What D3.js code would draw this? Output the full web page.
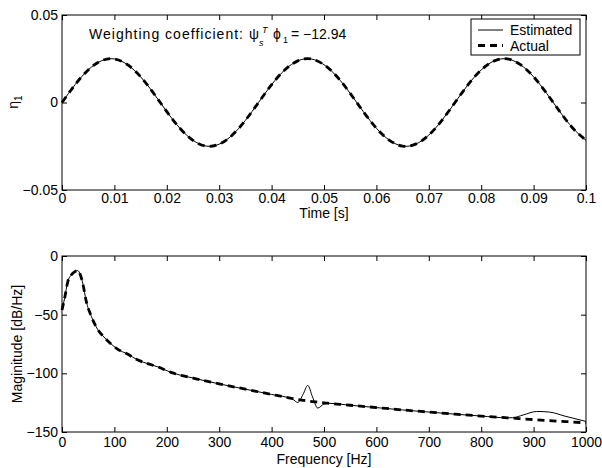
<!DOCTYPE html>
<html><head><meta charset="utf-8">
<script src="https://cdn.jsdelivr.net/npm/d3@7"></script>
<style>
body{margin:0;background:#fff}
svg{display:block}
text{font-family:"Liberation Sans",Arial,Helvetica,sans-serif;fill:#000}
</style>
</head><body>
<svg id="c" width="602" height="468"></svg>
<script>
// ---------- data ----------
const timeS = [0,0.0025,0.005,0.0075,0.01,0.0125,0.015,0.0175,0.02,0.0225,0.025,0.0275,0.03,0.0325,0.035,0.0375,
  0.04,0.0425,0.045,0.0475,0.05,0.0525,0.055,0.0575,0.06,0.0625,0.065,0.0675,0.07,0.0725,0.075,0.0775,
  0.08,0.0825,0.085,0.0875,0.09,0.0925,0.095,0.0975,0.1];
const etaEstimated = [0,0.0102,0.0186,0.0238,0.0249,0.0216,0.0147,0.0052,-0.0052,-0.0147,-0.0216,-0.0249,-0.0238,-0.0186,-0.0102,
  0,0.0102,0.0186,0.0238,0.0249,0.0216,0.0147,0.0052,-0.0052,-0.0147,-0.0216,-0.0249,-0.0238,-0.0186,-0.0102,
  0,0.0102,0.0186,0.0238,0.0249,0.0216,0.0147,0.0052,-0.0052,-0.0147,-0.0216];
const etaActual = [0,0.0102,0.0186,0.0238,0.0249,0.0216,0.0147,0.0052,-0.0052,-0.0147,-0.0216,-0.0249,-0.0238,-0.0186,-0.0102,
  0,0.0102,0.0186,0.0238,0.0249,0.0216,0.0147,0.0052,-0.0052,-0.0147,-0.0216,-0.0249,-0.0238,-0.0186,-0.0102,
  0,0.0102,0.0186,0.0238,0.0249,0.0216,0.0147,0.0052,-0.0052,-0.0147,-0.0216];
const timeTicks = [0,0.01,0.02,0.03,0.04,0.05,0.06,0.07,0.08,0.09,0.1];
const etaTicks = [-0.05,0,0.05];

const freqHz = [0,5,11,18,24,30,35,40,46,56,68,80,90,106,125,145,165,183,208,250,
  300,350,400,440,450,460,469,478,488,500,510,550,600,650,700,750,800,850,860,880,906,930,960,1000];
const magActual = [-46,-36,-22,-16,-13.5,-12.4,-16,-24,-38,-51.5,-62.5,-69,-73.5,-79.3,-83.6,-88.7,-92,-94.5,-99.2,-104,
  -109,-113.5,-118,-121.5,-122.3,-123,-123.6,-124.1,-124.6,-125.2,-125.6,-127.2,-129.2,-131.2,-133,-134.8,-136.4,-137.9,-138.2,-138.8,
  -139.6,-140.3,-141.1,-142.2];
const magEstimated = [-46,-36,-22,-16,-13.5,-12.4,-16,-24,-38,-51.5,-62.5,-69,-73.5,-79.3,-83.6,-88.7,-92,-94.5,-99.2,-104,
  -109,-113.5,-118,-122,-124.8,-118,-110.3,-120,-129.6,-126.2,-125.6,-127.2,-129.2,-131.2,-133,-134.8,-136.4,-137.9,-137.8,-135.5,
  -132.5,-133,-136.5,-141];
const freqTicks = [0,100,200,300,400,500,600,700,800,900,1000];
const magTicks = [-150,-100,-50,0];

const seriesNames = ["Estimated","Actual"];

// ---------- drawing ----------
const svg = d3.select("#c");
svg.append("rect").attr("width",602).attr("height",468).attr("fill","#fff");

const L = 62, R = 586;
const FS = 14;

function panel(top, bottom, xDom, yDom, xT, yT, xFmt, yFmt, xs, estY, actY, curve, xPad){
  const x = d3.scaleLinear().domain(xDom).range([L,R]);
  const y = d3.scaleLinear().domain(yDom).range([bottom,top]);
  const g = svg.append("g");

  const mk = (ax, tr, fmt, pad) => {
    const a = g.append("g").attr("transform",tr)
      .call(ax.tickSizeInner(-5).tickSizeOuter(0).tickPadding(pad).tickFormat(fmt));
    a.select(".domain").remove();
    a.selectAll("line").attr("stroke","#000").attr("stroke-width",1);
    a.selectAll("text").attr("font-size",FS).attr("font-family",'"Liberation Sans",Arial,sans-serif').attr("fill","#000");
    return a;
  };
  mk(d3.axisBottom(x).tickValues(xT), `translate(0,${bottom})`, xFmt, xPad);
  mk(d3.axisTop(x).tickValues(xT), `translate(0,${top})`, ()=>"", 0);
  mk(d3.axisLeft(y).tickValues(yT), `translate(${L},0)`, yFmt, 4);
  mk(d3.axisRight(y).tickValues(yT), `translate(${R},0)`, ()=>"", 0);

  const line = (ys) => d3.line().x((d,i)=>x(xs[i])).y(d=>y(d)).curve(curve)(ys);
  g.append("path").attr("d",line(estY)).attr("fill","none").attr("stroke","#000").attr("stroke-width",1);
  g.append("path").attr("d",line(actY)).attr("fill","none").attr("stroke","#000")
    .attr("stroke-width",2.8).attr("stroke-dasharray","7,5");

  g.append("rect").attr("x",L).attr("y",top).attr("width",R-L).attr("height",bottom-top)
    .attr("fill","none").attr("stroke","#000").attr("stroke-width",1);
  return {x,y,g};
}

const fmtT = d => d===0 ? "0" : d3.format(".2~f")(d);
const fmtE = d => d===0 ? "0" : d3.format(".2f")(d).replace("-","\u2212");
const fmtM = d => String(d).replace("-","\u2212");

panel(15,190,[0,0.1],[-0.05,0.05],timeTicks,etaTicks,fmtT,fmtE,timeS,etaEstimated,etaActual,d3.curveNatural,3);
panel(256,432,[0,1000],[-150,0],freqTicks,magTicks,d3.format("d"),fmtM,freqHz,magEstimated,magActual,d3.curveMonotoneX,5);

// axis labels
svg.append("text").attr("x",(L+R)/2).attr("y",218).attr("text-anchor","middle").attr("font-size",FS).text("Time [s]");
svg.append("text").attr("x",(L+R)/2).attr("y",464).attr("text-anchor","middle").attr("font-size",FS).text("Frequency [Hz]");
const eta = svg.append("text").attr("transform","translate(18,102) rotate(-90)").attr("text-anchor","middle").attr("font-size",FS);
eta.append("tspan").text("\u03b7");
eta.append("tspan").attr("font-size",10).attr("dy",4).text("1");
svg.append("text").attr("transform","translate(22,344) rotate(-90)").attr("text-anchor","middle").attr("font-size",FS).text("Maginitude [dB/Hz]");

// annotation
svg.append("text").attr("x",89).attr("y",39).attr("font-size",FS).attr("textLength",154).attr("lengthAdjust","spacing").text("Weighting coefficient:");
svg.append("text").attr("x",249).attr("y",39).attr("font-size",FS).text("\u03c8");
svg.append("text").attr("x",259).attr("y",46).attr("font-size",9).attr("font-style","italic").text("s");
svg.append("text").attr("x",262).attr("y",33).attr("font-size",9).attr("font-style","italic").text("T");
svg.append("text").attr("x",273).attr("y",39).attr("font-size",FS).text("\u03d5");
svg.append("text").attr("x",283).attr("y",43).attr("font-size",9).text("1");
svg.append("text").attr("x",291).attr("y",39).attr("font-size",FS).text("= \u221212.94");

// legend
const lg = svg.append("g");
lg.append("rect").attr("x",471).attr("y",19).attr("width",109).attr("height",36).attr("fill","#fff").attr("stroke","#000").attr("stroke-width",1);
const rows = [{y:30, w:1, dash:null},{y:45.5, w:2.8, dash:"7,5"}];
rows.forEach((r,i)=>{
  const ln = lg.append("line").attr("x1",478).attr("x2",503).attr("y1",r.y).attr("y2",r.y).attr("stroke","#000").attr("stroke-width",r.w);
  if(r.dash) ln.attr("stroke-dasharray",r.dash);
  lg.append("text").attr("x",510).attr("y",r.y+5).attr("font-size",FS).text(seriesNames[i]);
});
</script>
</body></html>
